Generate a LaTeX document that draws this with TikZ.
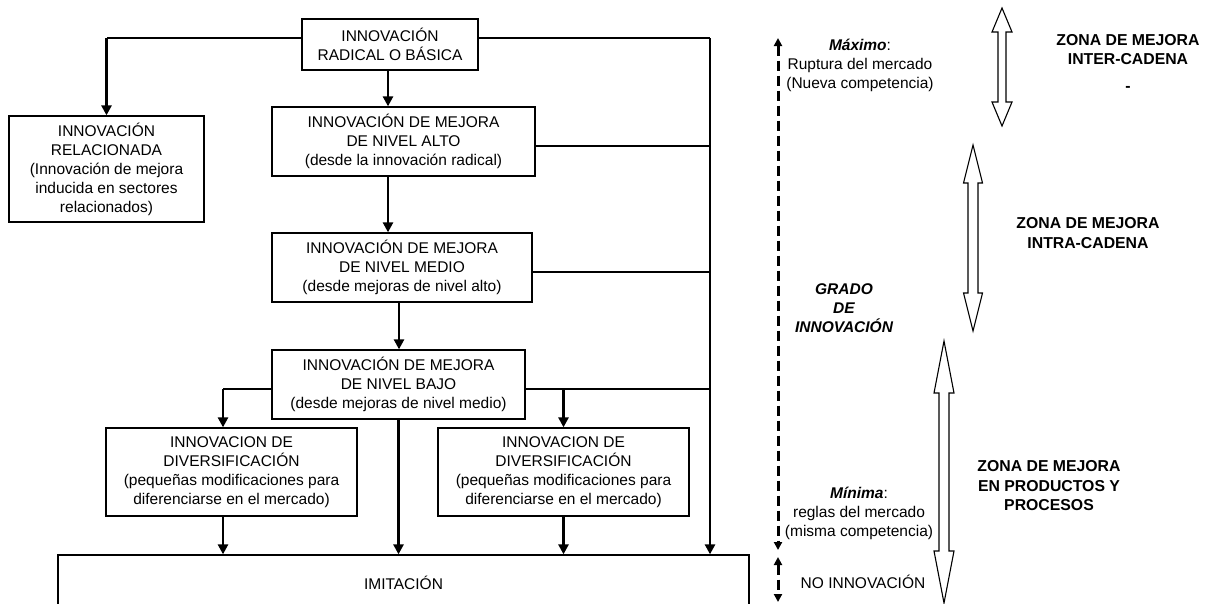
\documentclass[tikz,border=0pt]{standalone}
\usepackage{fontspec}
\setmainfont{Liberation Sans}
\usetikzlibrary{arrows.meta}
\newcommand\diagfont{\fontsize{15.5}{19}\selectfont}
% vertical hollow double arrow: centre x, top y, bottom y, head half-width, shaft half-width, head length
\newcommand\zonearrow[6]{%
  \draw[hollow] (#1,#2) -- ({#1+#4},{#2+#6}) -- ({#1+#5},{#2+#6}) -- ({#1+#5},{#3-#6})
    -- ({#1+#4},{#3-#6}) -- (#1,#3) -- ({#1-#4},{#3-#6}) -- ({#1-#5},{#3-#6})
    -- ({#1-#5},{#2+#6}) -- ({#1-#4},{#2+#6}) -- cycle;}
\begin{document}
\begin{tikzpicture}[x=1pt,y=-1pt,
  box/.style={draw, line width=1.3pt, inner sep=0pt, align=center, font=\diagfont},
  label/.style={inner sep=0pt, align=center, font=\diagfont},
  zone/.style={inner sep=0pt, align=center, font=\fontsize{15.8}{19.5}\selectfont\bfseries},
  thinline/.style={line width=1.2pt},
  flow/.style={line width=2.8pt, -{Triangle[width=10pt,length=10pt]}},
  scaleline/.style={line width=3pt, dash pattern=on 10pt off 5pt,
    {Triangle[width=8pt,length=8pt]}-{Triangle[width=8pt,length=8pt]}},
  hollow/.style={draw, line width=1.1pt, fill=white, line join=miter}]
\useasboundingbox (0,0) rectangle (1215,603);
\clip (0,0) rectangle (1215,603);

% boxes of the innovation chain
\node[box, minimum width=176pt, minimum height=51pt] (top) at (390,44.5)
  {INNOVACIÓN\\RADICAL O BÁSICA};
\node[box, minimum width=195pt, minimum height=106pt] (rel) at (106.5,169)
  {INNOVACIÓN\\RELACIONADA\\(Innovación de mejora\\inducida en sectores\\relacionados)};
\node[box, minimum width=263pt, minimum height=69pt] (alto) at (403.5,141.5)
  {INNOVACIÓN DE MEJORA\\DE NIVEL ALTO\\(desde la innovación radical)};
\node[box, minimum width=260pt, minimum height=69pt] (medio) at (402,267.5)
  {INNOVACIÓN DE MEJORA\\DE NIVEL MEDIO\\(desde mejoras de nivel alto)};
\node[box, minimum width=253pt, minimum height=69pt] (bajo) at (398.5,384.5)
  {INNOVACIÓN DE MEJORA\\DE NIVEL BAJO\\(desde mejoras de nivel medio)};
\node[box, minimum width=251pt, minimum height=88pt] (div1) at (231.5,472)
  {INNOVACION DE\\DIVERSIFICACIÓN\\(pequeñas modificaciones para\\diferenciarse en el mercado)};
\node[box, minimum width=251pt, minimum height=88pt] (div2) at (563.5,472)
  {INNOVACION DE\\DIVERSIFICACIÓN\\(pequeñas modificaciones para\\diferenciarse en el mercado)};
\node[box, minimum width=691pt, minimum height=56pt] (imit) at (403.5,583) {IMITACIÓN};

% connectors
\coordinate (tl) at ([yshift=6.5pt]top.west);
\coordinate (tr) at ([yshift=6.5pt]top.east);
\coordinate (relknee) at (tl -| rel.north);
\coordinate (spinetop) at (710,38);
\draw[thinline] (tl) -- (relknee);
\draw[flow] (relknee) -- (rel.north);
\draw[thinline] (tr) -- (spinetop);
\draw[flow] (spinetop) -- (spinetop |- imit.north);

\coordinate (ts) at ([xshift=-2pt]top.south);
\draw[flow] (ts) -- (ts |- alto.north);
\coordinate (ae) at ([yshift=-4.5pt]alto.east);
\draw[thinline] (ae) -- (ae -| spinetop);
\coordinate (as) at ([xshift=-15.5pt]alto.south);
\draw[flow] (as) -- (as |- medio.north);
\coordinate (me) at ([yshift=-4.5pt]medio.east);
\draw[thinline] (me) -- (me -| spinetop);
\coordinate (ms) at ([xshift=-3pt]medio.south);
\draw[flow] (ms) -- (ms |- bajo.north);

\coordinate (bw) at ([yshift=-4.5pt]bajo.west);
\coordinate (be) at ([yshift=-4.5pt]bajo.east);
\coordinate (d1top) at ([xshift=-8.5pt]div1.north);
\coordinate (d1bot) at ([xshift=-8.5pt]div1.south);
\draw[thinline] (bw) -- (bw -| d1top);
\draw[flow] (bw -| d1top) -- (d1top);
\draw[thinline] (be) -- (be -| spinetop);
\draw[flow] (be -| div2.north) -- (div2.north);
\draw[flow] (bajo.south) -- (bajo.south |- imit.north);
\draw[flow] (d1bot) -- (d1bot |- imit.north);
\draw[flow] (div2.south) -- (div2.south |- imit.north);

% degree-of-innovation scale
\coordinate (gtop) at (778,38);
\coordinate (gbot) at (778,550);
\coordinate (ntop) at (778,557);
\coordinate (nbot) at (778,602);
\draw[scaleline] (gtop) -- (gbot);
\draw[scaleline] (ntop) -- (nbot);

\node[label] (maximo) at (860,65)
  {{\bfseries\itshape Máximo}:\\Ruptura del mercado\\(Nueva competencia)};
\node[label, font=\diagfont\bfseries\itshape] (grado) at (844,308)
  {GRADO\\DE\\INNOVACIÓN};
\node[label] (minima) at (859,513)
  {{\bfseries\itshape Mínima}:\\reglas del mercado\\(misma competencia)};
\node[label] (noinnov) at (863,582) {NO INNOVACIÓN};

% improvement zones
\zonearrow{1002}{8}{126}{10}{4}{24}
\zonearrow{973}{145}{331}{9.5}{5}{38}
\zonearrow{944}{341}{603}{10}{5}{52}

\node[zone] (zinter) at (1128,49.5) {ZONA DE MEJORA\\INTER-CADENA};
\node[zone] (zdash) at (1128,89) {-};
\node[zone] (zintra) at (1088,233) {ZONA DE MEJORA\\INTRA-CADENA};
\node[zone] (zprod) at (1049,486) {ZONA DE MEJORA\\EN PRODUCTOS Y\\PROCESOS};
\end{tikzpicture}
\end{document}
